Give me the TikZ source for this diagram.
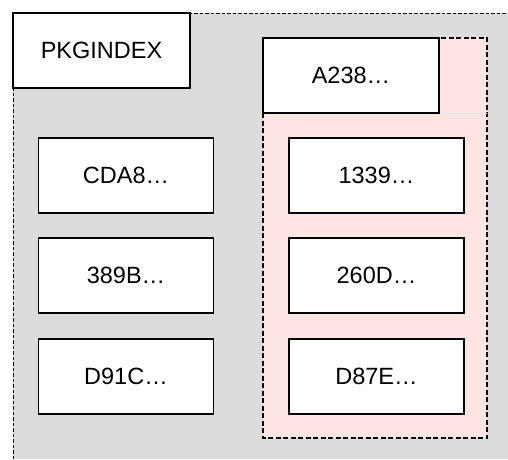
\documentclass[tikz,border=0pt]{standalone}
\usepackage{fontspec}
\setmainfont{Liberation Sans}
\definecolor{pagegray}{RGB}{220,220,220}
\definecolor{pinkfill}{RGB}{255,228,228}
\begin{document}
\begin{tikzpicture}[x=1pt,y=-1pt,
  item/.style={draw=black,line width=1.4pt,fill=white,minimum width=175pt,minimum height=75pt,
    inner sep=0pt,font=\fontsize{23.5}{28}\selectfont},
  groupline/.style={draw=black,line width=1.3pt,dash pattern=on 5pt off 2.5pt}]
  \useasboundingbox (0,0) rectangle (508,459);
  % outer package area
  \fill[pagegray] (13,13) rectangle (508,459);
  \coordinate (otl) at (13,13);
  \coordinate (otr) at (508,13);
  \coordinate (obl) at (13,459);
  \draw[black,line width=0.9pt,dash pattern=on 3.5pt off 2pt] (obl) -- (otl) -- (otr);
  % highlighted group
  \fill[pinkfill] (263,38) rectangle (487,438);
  \draw[groupline] (263,38) rectangle (487,438);
  \draw[white!90!black,line width=1pt] (439,113) -- (487,113);
  % nodes
  \node[item,minimum width=177pt] (pkg) at (101.5,50.5) {PKGINDEX};
  \node[item,minimum width=176pt] (a238) at (351,75.5) {A238…};
  \node[item] (cda8) at (126,175.5) {CDA8…};
  \node[item] (b389) at (126,275.5) {389B…};
  \node[item] (d91c) at (126,376.5) {D91C…};
  \node[item] (n1339) at (376.5,175.5) {1339…};
  \node[item] (d260) at (376.5,275.5) {260D…};
  \node[item] (d87e) at (376.5,376.5) {D87E…};
\end{tikzpicture}
\end{document}
